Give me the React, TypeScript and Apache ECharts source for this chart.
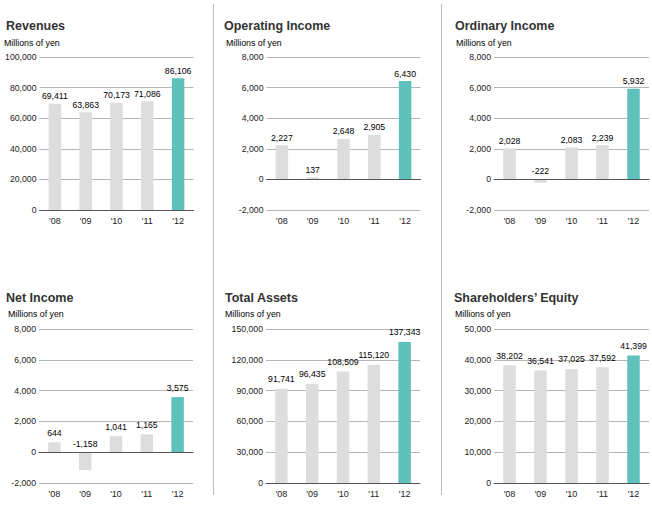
import React, { useEffect, useRef } from "react";
import * as echarts from "echarts";

const years = ["'08", "'09", "'10", "'11", "'12"];
const titles = ["Revenues", "Operating Income", "Ordinary Income", "Net Income", "Total Assets", "Shareholders’ Equity"];
const revenues = [69411, 63863, 70173, 71086, 86106];
const operatingIncome = [2227, 137, 2648, 2905, 6430];
const ordinaryIncome = [2028, -222, 2083, 2239, 5932];
const netIncome = [644, -1158, 1041, 1165, 3575];
const totalAssets = [91741, 96435, 108509, 115120, 137343];
const shareholdersEquity = [38202, 36541, 37025, 37592, 41399];
const axisMin = [0, -2000, -2000, -2000, 0, 0];
const axisMax = [100000, 8000, 8000, 8000, 150000, 50000];
const axisInterval = [20000, 2000, 2000, 2000, 30000, 10000];

const FONT = "'Liberation Sans', Arial, Helvetica, sans-serif";

export default function App() {
  const ref = useRef<HTMLDivElement>(null);
  useEffect(() => {
    if (!ref.current) return;
    const chart = echarts.init(ref.current, undefined, { renderer: "svg" });
    const series = [revenues, operatingIncome, ordinaryIncome, netIncome, totalAssets, shareholdersEquity];
    const grids = [
      { left: 39.5, top: 57, width: 154, height: 153 },
      { left: 266.5, top: 57, width: 154, height: 153 },
      { left: 494, top: 57, width: 155, height: 153 },
      { left: 39, top: 329, width: 154, height: 154 },
      { left: 266, top: 329, width: 154, height: 154 },
      { left: 494, top: 329, width: 155, height: 154 },
    ];
    const titlePos = [
      { x: 6, y: 26, sx: 4, sy: 43 },
      { x: 224, y: 26, sx: 226, sy: 43 },
      { x: 455, y: 26, sx: 456, sy: 43 },
      { x: 6, y: 298, sx: 8, sy: 314 },
      { x: 225, y: 298, sx: 225, sy: 314 },
      { x: 454, y: 298, sx: 455, sy: 314 },
    ];
    const graphic: any[] = [];
    titlePos.forEach((p, i) => {
      graphic.push({
        type: "text", x: p.x, y: p.y,
        style: { text: titles[i], font: `bold 12.5px ${FONT}`, fill: "#333", textVerticalAlign: "middle", verticalAlign: "middle" },
      });
      graphic.push({
        type: "text", x: p.sx, y: p.sy,
        style: { text: "Millions of yen", font: `8.8px ${FONT}`, fill: "#000", textVerticalAlign: "middle", verticalAlign: "middle" },
      });
    });
    [213.5, 441.5].forEach((x) => {
      graphic.push({ type: "line", shape: { x1: x, y1: 4, x2: x, y2: 495 }, style: { stroke: "#bdbdbd", lineWidth: 1 } });
    });

    const option: any = {
      animation: false,
      backgroundColor: "#fff",
      textStyle: { fontFamily: FONT },
      grid: grids.map((g) => ({ ...g, containLabel: false })),
      xAxis: grids.map((_, i) => ({
        type: "category",
        gridIndex: i,
        data: years,
        axisTick: { show: false },
        axisLine: { show: true, onZero: true, lineStyle: { color: "#555", width: 1 } },
        axisLabel: { color: "#222", fontSize: 9, margin: 6, fontFamily: FONT },
        z: 5,
      })),
      yAxis: grids.map((_, i) => ({
        type: "value",
        gridIndex: i,
        min: axisMin[i],
        max: axisMax[i],
        interval: axisInterval[i],
        axisLine: { show: false },
        axisTick: { show: false },
        splitLine: { show: true, lineStyle: { color: "#b5b5b5", width: 1 } },
        axisLabel: {
          color: "#222", fontSize: 8.7, margin: 3, fontFamily: FONT,
          formatter: (v: number) => v.toLocaleString("en-US"),
        },
      })),
      series: series.map((d, i) => ({
        type: "bar",
        xAxisIndex: i,
        yAxisIndex: i,
        barWidth: 12.5,
        data: d.map((v, j) => ({
          value: v,
          itemStyle: { color: j === d.length - 1 ? "#5fc1bb" : "#dcdddc" },
          label: v < 0 ? { position: "insideBottom", distance: 0, offset: [0, -(Math.abs(v) / (axisMax[i] - axisMin[i])) * grids[i].height - 4] } : undefined,
        })),
        label: {
          show: true,
          position: "top",
          distance: i >= 3 ? 5 : 3,
          color: "#000",
          fontSize: 8.7,
          fontFamily: FONT,
          formatter: (p: any) => Number(p.value).toLocaleString("en-US"),
        },
      })),
      graphic,
    };
    chart.setOption(option);
    return () => chart.dispose();
  }, []);
  return <div ref={ref} style={{ position: "fixed", left: 0, top: 0, width: 652, height: 523 }} />;
}
